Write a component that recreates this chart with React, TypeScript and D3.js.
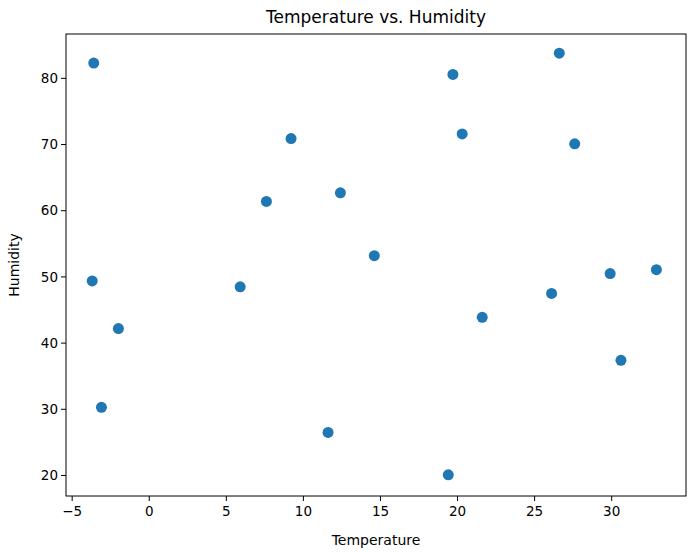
import * as d3 from "d3"

const temperature = [-3.6, -3.7, -2.0, -3.1, 5.9, 7.6, 9.2, 11.6, 12.4, 14.6, 19.4, 19.7, 20.3, 21.6, 26.1, 26.6, 27.6, 29.9, 30.6, 32.9]
const humidity = [82.3, 49.4, 42.2, 30.3, 48.5, 61.4, 70.9, 26.5, 62.7, 53.2, 20.1, 80.6, 71.6, 43.9, 47.5, 83.8, 70.1, 50.5, 37.4, 51.1]
const xTicks = [-5, 0, 5, 10, 15, 20, 25, 30]
const yTicks = [20, 30, 40, 50, 60, 70, 80]

export default function App() {
  const W = 692, H = 552
  const m = { left: 66, right: 686, top: 34, bottom: 496 }
  const x = d3.scaleLinear().domain([-5.4, 34.82]).range([m.left, m.right])
  const y = d3.scaleLinear().domain([16.9, 86.7]).range([m.bottom, m.top])
  const font = "DejaVu Sans, sans-serif"

  return (
    <svg width={W} height={H} style={{ position: "absolute", left: 0, top: 0 }} fontFamily={font}>
      <rect width={W} height={H} fill="white" />
      <text x={(m.left + m.right) / 2} y={23} textAnchor="middle" fontSize={17}>Temperature vs. Humidity</text>
      {temperature.map((t, i) => (
        <circle key={i} cx={x(t)} cy={y(humidity[i])} r={5.5} fill="#1f77b4" />
      ))}
      <rect x={m.left} y={m.top} width={m.right - m.left} height={m.bottom - m.top} fill="none" stroke="black" strokeWidth={1} />
      {xTicks.map((t) => (
        <g key={t} transform={`translate(${x(t)},${m.bottom})`}>
          <line y2={5} stroke="black" />
          <text y={20} textAnchor="middle" fontSize={13.5}>{t < 0 ? `\u2212${-t}` : t}</text>
        </g>
      ))}
      {yTicks.map((t) => (
        <g key={t} transform={`translate(${m.left},${y(t)})`}>
          <line x2={-5} stroke="black" />
          <text x={-8} dy="0.35em" textAnchor="end" fontSize={13.5}>{t}</text>
        </g>
      ))}
      <text x={(m.left + m.right) / 2} y={545} textAnchor="middle" fontSize={14}>Temperature</text>
      <text transform={`translate(19,${(m.top + m.bottom) / 2}) rotate(-90)`} textAnchor="middle" fontSize={14}>Humidity</text>
    </svg>
  )
}
